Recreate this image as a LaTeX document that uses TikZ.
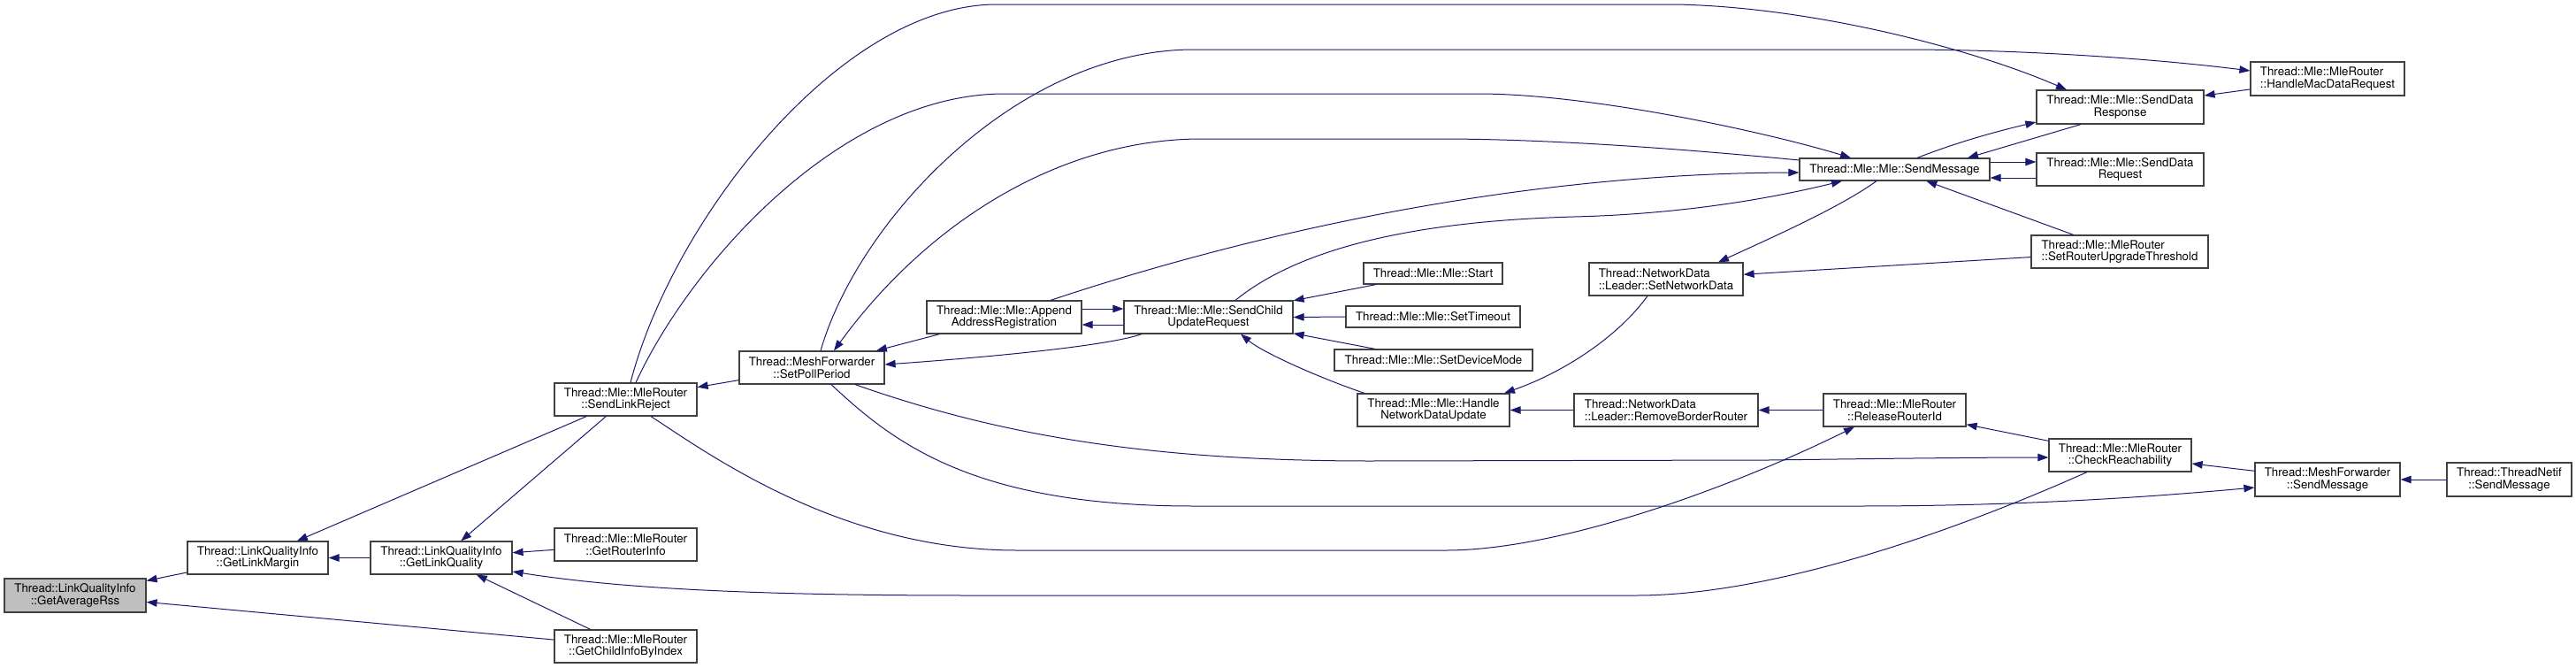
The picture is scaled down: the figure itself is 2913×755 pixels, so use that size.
\documentclass[tikz,border=0pt]{standalone}
\usepackage{fontspec}
\setmainfont{TeX Gyre Heros}
\usetikzlibrary{arrows.meta}
\definecolor{edgeblue}{HTML}{191970}
\definecolor{boxline}{HTML}{404040}
\definecolor{rootfill}{HTML}{BFBFBF}
\begin{document}
\begin{tikzpicture}[x=1pt,y=-1pt,
  fn/.style={draw=boxline, line width=1.2pt, fill=white, inner sep=0pt, align=center,
    font=\fontsize{13.3}{13.6}\selectfont, text=black},
  fnl/.style={fn, align=left},
  e/.style={draw=edgeblue, line width=1pt, -{Triangle[length=12pt,width=8.5pt]}},
]
\useasboundingbox (0,0) rectangle (2913,755);

% nodes
\node[fn, fill=rootfill, minimum width=160pt, minimum height=38pt] (GAR) at (85,673) {Thread::LinkQualityInfo\\::GetAverageRss};
\node[fn, minimum width=159pt, minimum height=37pt] (GLM) at (291.5,630.5) {Thread::LinkQualityInfo\\::GetLinkMargin};
\node[fn, minimum width=160pt, minimum height=37pt] (GLQ) at (499,630.5) {Thread::LinkQualityInfo\\::GetLinkQuality};
\node[fn, minimum width=161pt, minimum height=37pt] (SLR) at (707.5,451.5) {Thread::Mle::MleRouter\\::SendLinkReject};
\node[fn, minimum width=161pt, minimum height=37pt] (GRI) at (707.5,615.5) {Thread::Mle::MleRouter\\::GetRouterInfo};
\node[fn, minimum width=161pt, minimum height=37pt] (GCI) at (707.5,730.5) {Thread::Mle::MleRouter\\::GetChildInfoByIndex};
\node[fn, minimum width=164pt, minimum height=37pt] (SPP) at (918,415.5) {Thread::MeshForwarder\\::SetPollPeriod};
\node[fn, minimum width=175pt, minimum height=37pt] (AAR) at (1135.5,358.5) {Thread::Mle::Mle::Append\\AddressRegistration};
\node[fn, minimum width=191pt, minimum height=37pt] (SCUR) at (1366.5,358.5) {Thread::Mle::Mle::SendChild\\UpdateRequest};
\node[fn, minimum width=157pt, minimum height=24pt] (START) at (1620.5,309) {Thread::Mle::Mle::Start};
\node[fn, minimum width=197pt, minimum height=24pt] (STO) at (1620.5,358) {Thread::Mle::Mle::SetTimeout};
\node[fn, minimum width=224pt, minimum height=24pt] (SDM) at (1621,407) {Thread::Mle::Mle::SetDeviceMode};
\node[fn, minimum width=172pt, minimum height=37pt] (HNDU) at (1621,463.5) {Thread::Mle::Mle::Handle\\NetworkDataUpdate};
\node[fnl, minimum width=174pt, minimum height=37pt] (SND) at (1884,315.5) {Thread::NetworkData\\::Leader::SetNetworkData};
\node[fnl, minimum width=208pt, minimum height=37pt] (RBR) at (1884,463.5) {Thread::NetworkData\\::Leader::RemoveBorderRouter};
\node[fn, minimum width=161pt, minimum height=37pt] (RRI) at (2142.5,463.5) {Thread::Mle::MleRouter\\::ReleaseRouterId};
\node[fn, minimum width=161pt, minimum height=37pt] (CR) at (2397.5,514.5) {Thread::Mle::MleRouter\\::CheckReachability};
\node[fn, minimum width=164pt, minimum height=38pt] (MFSM) at (2632,542) {Thread::MeshForwarder\\::SendMessage};
\node[fn, minimum width=141pt, minimum height=38pt] (TNSM) at (2837.5,542) {Thread::ThreadNetif\\::SendMessage};
\node[fn, minimum width=215pt, minimum height=25pt] (SM) at (2142.5,191.5) {Thread::Mle::Mle::SendMessage};
\node[fn, minimum width=189pt, minimum height=38pt] (SDRESP) at (2397.5,121) {Thread::Mle::Mle::SendData\\Response};
\node[fn, minimum width=189pt, minimum height=37pt] (SDREQ) at (2397.5,191.5) {Thread::Mle::Mle::SendData\\Request};
\node[fnl, minimum width=200pt, minimum height=37pt] (SRUT) at (2397,284.5) {Thread::Mle::MleRouter\\::SetRouterUpgradeThreshold};
\node[fnl, minimum width=174pt, minimum height=38pt] (HMDR) at (2632,89) {Thread::Mle::MleRouter\\::HandleMacDataRequest};

% straight edges
\draw[e] (GLM) -- (GAR);
\draw[e] (GCI) -- (GAR);
\draw[e] (GLQ) -- (GLM);
\draw[e] (SLR) -- (GLM);
\draw[e] (SLR) -- (GLQ);
\draw[e] (GRI) -- (GLQ);
\draw[e] (GCI) -- (GLQ);
\draw[e] (SPP) -- (SLR);
\draw[e] (AAR) -- (SPP);
\draw[e] ([yshift=9.5pt]AAR.east) -- ([yshift=9.5pt]SCUR.west);
\draw[e] ([yshift=-8.5pt]SCUR.west) -- ([yshift=-8.5pt]AAR.east);
\draw[e] (START) -- (SCUR);
\draw[e] (STO.west) -- (SCUR.east);
\draw[e] (SDM) -- (SCUR);
\draw[e] (RBR) -- (HNDU);
\draw[e] (RRI) -- (RBR);
\draw[e] (CR) -- (RRI);
\draw[e] (MFSM) -- (CR);
\draw[e] (TNSM) -- (MFSM);
\draw[e] (SRUT) -- (SND);
\draw[e] (SRUT) -- (SM);
\draw[e] (HMDR) -- (SDRESP);
\draw[e] ([yshift=8.5pt]SM.east) -- ([yshift=8.5pt]SDREQ.west);
\draw[e] ([yshift=-9.5pt]SDREQ.west) -- ([yshift=-9.5pt]SM.east);
\draw[e] ([xshift=-44.5pt]SDRESP.south) -- ([xshift=82.5pt]SM.north);

% curved edges
\draw[e] ([xshift=25.5pt]SM.north) .. controls (2215,160) and (2260,148) .. ([yshift=-17pt]SDRESP.west);
\draw[e] ([xshift=-75.5pt]SCUR.south) .. controls (1250,392) and (1100,405) .. ([yshift=3.5pt]SPP.east);
\draw[e] ([xshift=-78pt]HNDU.north) .. controls (1500,430) and (1430,400) .. ([xshift=36.5pt]SCUR.south);
\draw[e] ([xshift=-21pt]SND.south) .. controls (1830,380) and (1770,420) .. ([xshift=80pt]HNDU.north);
\draw[e] ([xshift=-20.5pt]SM.south) .. controls (2080,235) and (2000,270) .. ([xshift=59pt]SND.north);

% long curves
\draw[e] ([xshift=5.5pt]SLR.north) .. controls (760,250) and (950,5) .. (1127,5)
  -- (1895,5) .. controls (2050,8) and (2230,55) .. ([xshift=-60.5pt]SDRESP.north);
\draw[e] ([xshift=10pt]SPP.north) .. controls (970,250) and (1150,56) .. (1350,56)
  -- (2150,56) .. controls (2300,56) and (2450,68) .. ([yshift=9pt]HMDR.west);
\draw[e] ([xshift=11.5pt]SLR.north) .. controls (780,300) and (950,106) .. (1136,106)
  -- (1671,106) .. controls (1800,106) and (2000,150) .. ([xshift=-49.5pt]SM.north);
\draw[e] ([yshift=10.5pt]SM.west) .. controls (1900,168) and (1750,157) .. (1627,157)
  -- (1359,157) .. controls (1200,157) and (1050,250) .. ([xshift=25pt]SPP.north);
\draw[e] ([xshift=52.5pt]AAR.north) .. controls (1420,262) and (1720,196) .. ([yshift=-3.5pt]SM.west);
\draw[e] ([xshift=30.5pt]SCUR.north) .. controls (1470,280) and (1600,250) .. (1780,245)
  .. controls (1900,242) and (2000,225) .. ([xshift=-59.5pt]SM.south);
\draw[e] ([xshift=49pt]SPP.south) .. controls (1130,492) and (1300,521) .. (1550,521)
  -- (2000,520) .. controls (2150,518) and (2250,517) .. ([yshift=-2.5pt]CR.west);
\draw[e] ([xshift=22pt]SPP.south) .. controls (1010,500) and (1100,572) .. (1350,572)
  -- (2100,572) .. controls (2300,572) and (2450,560) .. ([yshift=-9pt]MFSM.west);
\draw[e] ([xshift=-37.5pt]CR.south) .. controls (2200,605) and (2000,673) .. (1850,673)
  -- (1100,673) .. controls (850,673) and (700,665) .. ([yshift=-15.5pt]GLQ.east);
\draw[e] ([xshift=28.5pt]SLR.south) .. controls (800,512) and (950,622) .. (1150,622)
  -- (1635,622) .. controls (1760,622) and (1950,555) .. ([xshift=-45.5pt]RRI.south);
\end{tikzpicture}
\end{document}
